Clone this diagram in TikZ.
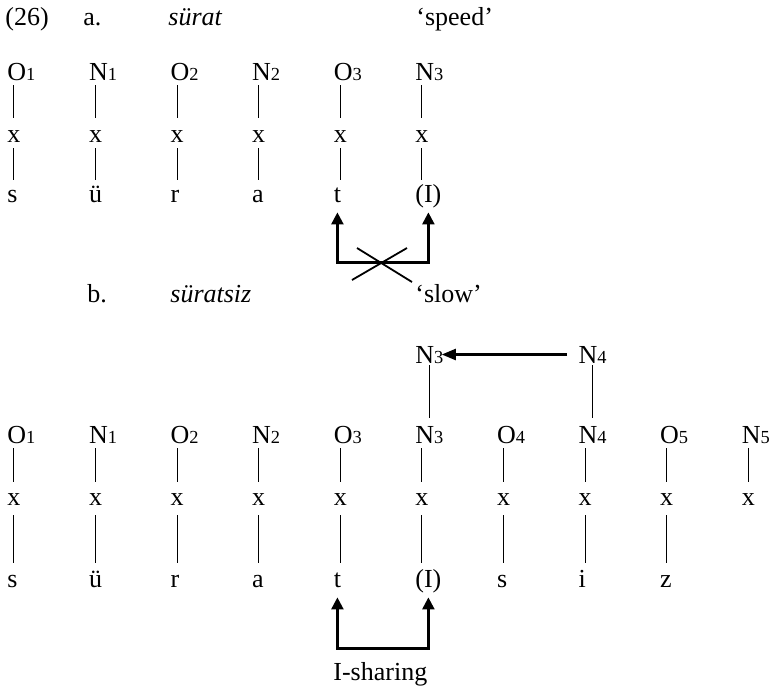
\documentclass[tikz,border=0pt]{standalone}
\usepackage{fontspec}
\setmainfont{Liberation Serif}
\usepackage{tikz}
\usetikzlibrary{arrows.meta, positioning, calc}

\newcommand{\idx}[1]{{\fontsize{9.2}{11}\selectfont #1}}

\begin{document}
\begin{tikzpicture}[x=0.5pt, y=-0.5pt, font=\fontsize{13}{15}\selectfont,
  word/.style={anchor=base west, inner sep=0pt},
  tier/.style={anchor=base west, inner sep=0pt, text height=8.5pt, text depth=0pt},
  assoc/.style={line width=0.45pt},
  sharing/.style={line width=1.2pt, {Triangle[width=6pt,length=6pt]}-{Triangle[width=6pt,length=6pt]}}]
  \useasboundingbox (0,0) rectangle (772,692);

  % (26a) surat
  \node[word] (num) at (5,25) {(26)};
  \node[word] (ia) at (83,25) {a.};
  \node[word] (wa) at (168,25) {\itshape sürat};
  \node[word] (ga) at (416,25) {`speed'};
  \foreach \lab/\seg [count=\i] in {O/s, N/ü, O/r, N/a, O/t, N/{(I)}} {
    \pgfmathsetmacro\cx{7+81.6*(\i-1)}
    \pgfmathtruncatemacro\k{(\i+1)/2}
    \node[tier] (ao\i) at (\cx,80) {\lab\idx{\k}};
    \node[tier] (ax\i) at (\cx,142) {x};
    \node[tier] (as\i) at (\cx,202) {\seg};
    \draw[assoc, shorten <=2.5pt, shorten >=3.5pt] (ax\i.north |- ao\i.south) -- (ax\i.north);
    \draw[assoc, shorten <=3pt, shorten >=2.5pt] (ax\i.south) -- (ax\i.south |- as\i.north);
  }
  \draw[sharing] ([yshift=-5pt]as5.south) -- ++(0,-25pt) -| ([yshift=-5pt]as6.south);
  \draw[line width=0.9pt] (357,248) -- (412,282) (407,248) -- (352,280);

  % (26b) suratsiz
  \node[word] (ib) at (87,302) {b.};
  \node[word] (wb) at (170,302) {\itshape süratsiz};
  \node[word] (gb) at (415,302) {`slow'};
  \foreach \lab/\seg [count=\i] in {O/s, N/ü, O/r, N/a, O/t, N/{(I)}, O/s, N/i, O/z} {
    \pgfmathsetmacro\cx{7+81.6*(\i-1)}
    \pgfmathtruncatemacro\k{(\i+1)/2}
    \node[tier] (bo\i) at (\cx,443) {\lab\idx{\k}};
    \node[tier] (bx\i) at (\cx,505) {x};
    \node[tier] (bs\i) at (\cx,587) {\seg};
    \draw[assoc, shorten <=2.5pt, shorten >=3pt] (bx\i.north |- bo\i.south) -- (bx\i.north);
    \draw[assoc, shorten <=5pt, shorten >=3.5pt] (bx\i.south) -- (bx\i.south |- bs\i.north);
  }
  \node[tier] (bo10) at (741.4,443) {N\idx{5}};
  \node[tier] (bx10) at (741.4,505) {x};
  \draw[assoc, shorten <=2.5pt, shorten >=3pt] (bx10.north |- bo10.south) -- (bx10.north);

  % nucleus spreading
  \node[tier] (bn3) at (415,363) {N\idx{3}};
  \node[tier] (bn4) at (578.2,363) {N\idx{4}};
  \draw[assoc, line width=0.8pt, shorten <=1pt, shorten >=4pt] (bn3.south) -- (bn3.south |- bo6.north);
  \draw[assoc, line width=0.8pt, shorten <=1pt, shorten >=4pt] (bn4.south) -- (bn4.south |- bo8.north);
  \draw[line width=1.1pt, -{Triangle[width=5.5pt,length=7pt]}, shorten <=5.5pt, shorten >=-1pt] (bn4.west) -- (bn3.east);

  \draw[sharing] ([yshift=-5pt]bs5.south) -- ++(0,-25.5pt) -| ([yshift=-5pt]bs6.south);
  \node[word] (ish) at (333,680) {I-sharing};
\end{tikzpicture}
\end{document}
